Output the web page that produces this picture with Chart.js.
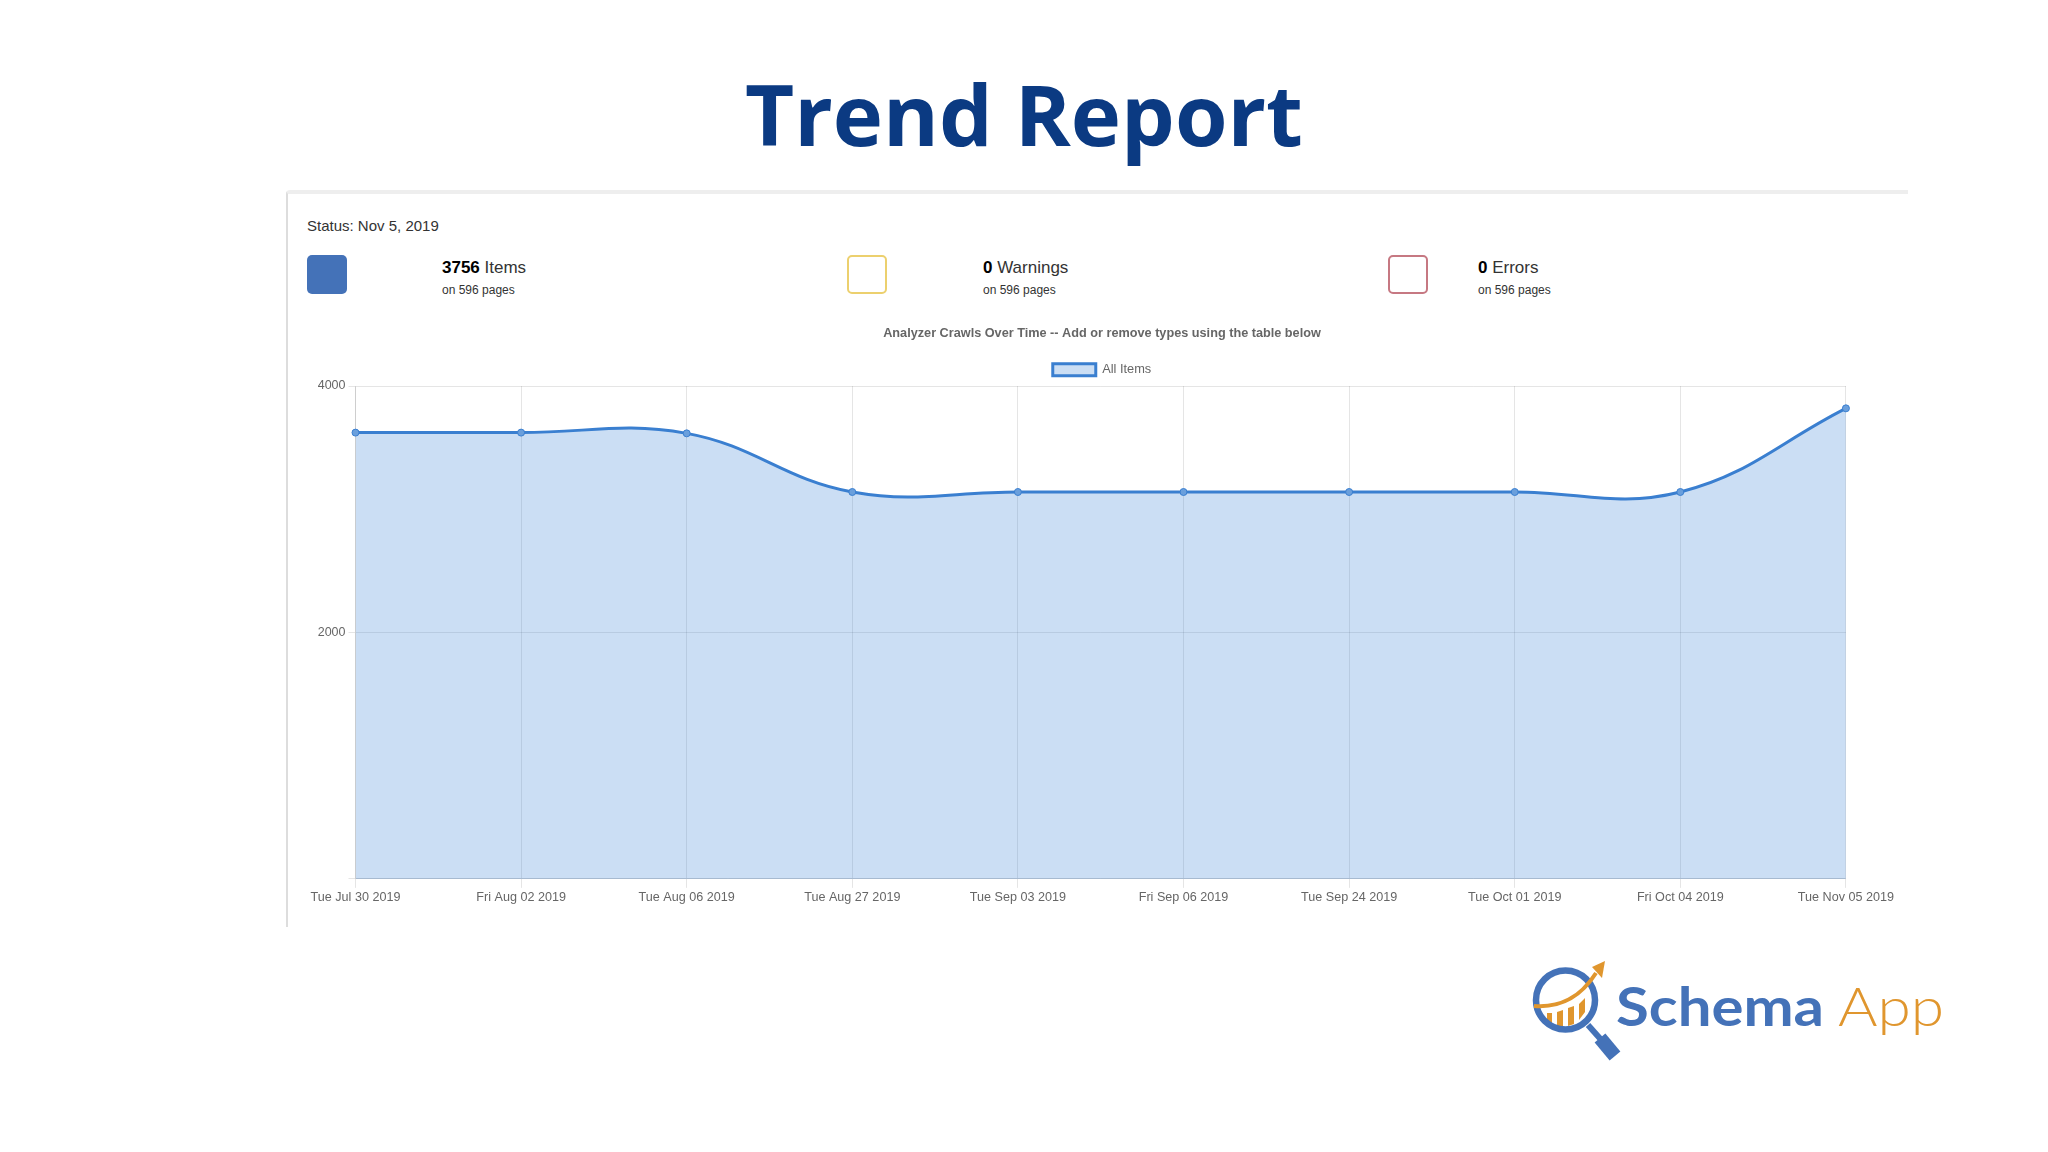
<!DOCTYPE html>
<html>
<head>
<meta charset="utf-8">
<title>Trend Report</title>
<script src="https://cdn.jsdelivr.net/npm/chart.js@4"></script>
<style>
  html, body { margin: 0; padding: 0; background: #fff; }
  body { width: 2048px; height: 1152px; position: relative; overflow: hidden; font-family: "Liberation Sans", Arial, sans-serif; }
  h1 { position: absolute; left: 0; top: 58px; width: 2048px; margin: 0; text-align: center; font: 700 85px/110px "Open Sans", sans-serif; color: #0b3a82; }
  .panel { position: absolute; left: 286px; top: 190px; width: 1622px; height: 737px; box-sizing: border-box; border-top: 4px solid #eeeeee; border-left: 2px solid #dddddd; border-top-left-radius: 4px; }
  .abs { position: absolute; white-space: nowrap; }
  .status { left: 307px; top: 217px; font-size: 15px; line-height: 18px; color: #333; }
  .swatch { position: absolute; top: 255px; width: 40px; height: 39px; box-sizing: border-box; border-radius: 5px; }
  .count { top: 258px; font-size: 17px; line-height: 20px; color: #333; }
  .count b { color: #000; }
  .pages { top: 283px; font-size: 12px; line-height: 14px; color: #333; }
  canvas { position: absolute; left: 308px; top: 315px; }
  #logo { position: absolute; left: 1500px; top: 940px; }
</style>
</head>
<body>
<h1>Trend Report</h1>
<div class="panel"></div>
<div class="abs status">Status: Nov 5, 2019</div>

<div class="swatch" style="left:307px;background:#4472b8"></div>
<div class="abs count" style="left:442px"><b>3756</b> Items</div>
<div class="abs pages" style="left:442px">on 596 pages</div>

<div class="swatch" style="left:847px;border:2px solid #ecd06e"></div>
<div class="abs count" style="left:983px"><b>0</b> Warnings</div>
<div class="abs pages" style="left:983px">on 596 pages</div>

<div class="swatch" style="left:1388px;border:2px solid #c67882"></div>
<div class="abs count" style="left:1478px"><b>0</b> Errors</div>
<div class="abs pages" style="left:1478px">on 596 pages</div>

<canvas id="trend"></canvas>

<svg id="logo" width="480" height="140" viewBox="0 0 480 140">
  <line x1="88" y1="85" x2="104" y2="103" stroke="#4472b8" stroke-width="6"/>
  <line x1="100" y1="98" x2="115" y2="116" stroke="#4472b8" stroke-width="14"/>
  <path d="M47 73 L47 82 L52 84 L52 73 Z M57 72 L57 86 L63 86 L63 70 Z M68 68 L68 86 L74 84 L74 66 Z M79 64 L79 80 L85 72 L85 58 Z" fill="#e0962e"/>
  <circle cx="65.5" cy="60" r="29" fill="none" stroke="#e0962e" stroke-width="1.5"/>
  <circle cx="65.5" cy="60" r="29.5" fill="none" stroke="#4472b8" stroke-width="6.5"/>
  <path d="M34 66 C60 68 80 58 96 33" fill="none" stroke="#e0962e" stroke-width="4"/>
  <path d="M105 21 L92 27 L102 38 Z" fill="#e0962e"/>
  <text x="116" y="85.5" font-family="Lato" font-weight="700" font-size="54" fill="#4472b8" textLength="208" lengthAdjust="spacingAndGlyphs">Schema</text>
  <text x="338" y="85.5" font-family="Lato" font-weight="300" font-size="54" fill="#e0962e" textLength="106" lengthAdjust="spacingAndGlyphs">App</text>
</svg>

<script>
// values
const categories = ['Tue Jul 30 2019', 'Fri Aug 02 2019', 'Tue Aug 06 2019', 'Tue Aug 27 2019', 'Tue Sep 03 2019',
    'Fri Sep 06 2019', 'Tue Sep 24 2019', 'Tue Oct 01 2019', 'Fri Oct 04 2019', 'Tue Nov 05 2019'];
const allItems = [3622, 3622, 3616, 3140, 3140, 3140, 3140, 3140, 3140, 3819];
const yTicks = [0, 2000, 4000];
const chartTitle = 'Analyzer Crawls Over Time -- Add or remove types using the table below';
const seriesName = 'All Items';

const canvas = document.getElementById('trend');
canvas.style.width = '1588px';
canvas.style.height = '592px';
canvas.width = 1588;
canvas.height = 592;

new Chart(canvas.getContext('2d'), {
    type: 'line',
    data: {
        labels: categories,
        datasets: [{
            label: seriesName,
            data: allItems,
            borderColor: '#3a7fd0',
            borderWidth: 3,
            backgroundColor: 'rgba(54,128,214,0.26)',
            pointBackgroundColor: '#6a9fdc',
            pointBorderColor: '#3a7fd0',
            pointBorderWidth: 1,
            pointRadius: 3.5,
            fill: true,
            tension: 0.4
        }]
    },
    options: {
        responsive: false,
        animation: false,
        layout: { padding: { top: 11, right: 0, bottom: 0 } },
        plugins: {
            title: {
                display: true,
                text: chartTitle,
                color: '#666',
                font: { family: '"Liberation Sans"', size: 12.7, weight: 'bold' },
                padding: { top: 0, bottom: 12 }
            },
            legend: {
                labels: {
                    color: '#666',
                    font: { family: '"Liberation Sans"', size: 12.8 },
                    boxWidth: 43,
                    boxHeight: 12
                }
            },
            tooltip: { enabled: false }
        },
        scales: {
            x: {
                grid: { color: 'rgba(0,0,0,0.1)', tickLength: 9 },
                border: { color: 'rgba(0,0,0,0.1)' },
                ticks: {
                    color: '#666',
                    font: { family: '"Liberation Sans"', size: 12.6 },
                    maxRotation: 0,
                    autoSkip: false,
                    padding: 2
                }
            },
            y: {
                min: 0,
                max: 4000,
                afterBuildTicks: function(scale) {
                    scale.ticks = yTicks.map(function(v) { return { value: v }; });
                },
                afterFit: function(scale) { scale.width = 47.5; },
                grid: { color: 'rgba(0,0,0,0.1)', tickLength: 7 },
                border: { color: 'rgba(0,0,0,0.1)' },
                ticks: {
                    color: '#666',
                    font: { family: '"Liberation Sans"', size: 12.5 },
                    padding: 3,
                    callback: function(v) { return v === 0 ? '' : v; }
                }
            }
        }
    }
});
</script>
</body>
</html>
